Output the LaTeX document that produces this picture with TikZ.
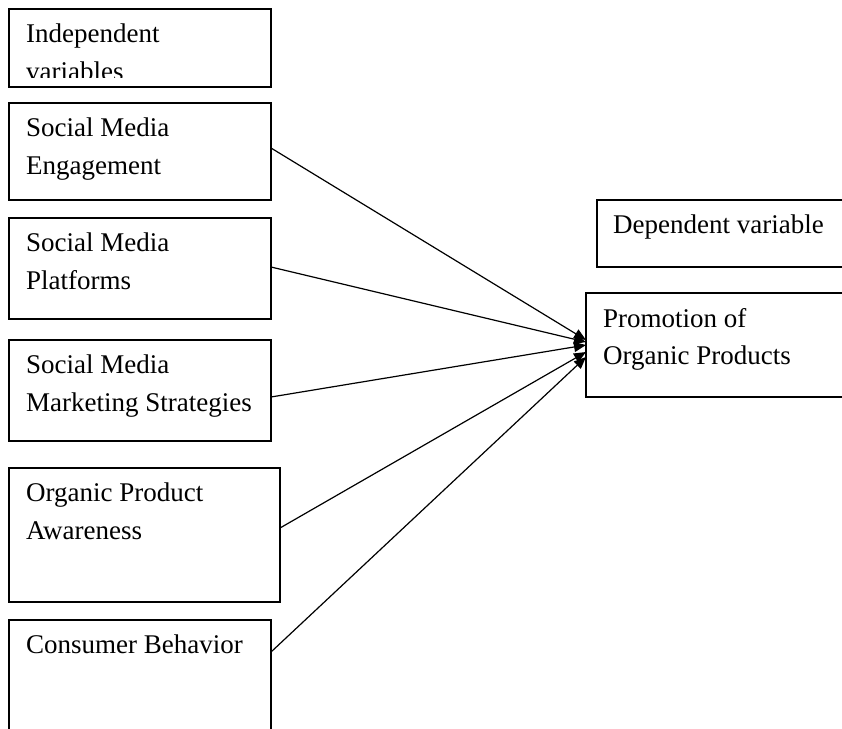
\documentclass[tikz,border=0pt]{standalone}
\usepackage{fontspec}
\setmainfont{Liberation Serif}
\usepackage{tikz}
\usetikzlibrary{positioning,calc,arrows.meta}

\begin{document}
\begin{tikzpicture}[x=1pt, y=-1pt,
    box/.style = {draw, line width=1.3pt, anchor=north west, inner sep=0pt, outer sep=0pt},
    lbl/.style = {anchor=north west, inner sep=0pt, align=left,
                  font=\fontsize{27}{37.5}\selectfont},
    arr/.style = {line width=1.2pt, -{Triangle[length=12pt, width=10pt]}}]
    \clip (0,0) rectangle (842,728);

    % independent side
    \node[box, minimum width=262, minimum height=78] (indep) at (9,9) {};
    \begin{scope}
        \clip (9,9) rectangle (271,77);
        \node[lbl] (indep-t) at ($(indep.north west)+(17,15)$) {Independent\\variables};
    \end{scope}

    \node[box, minimum width=262, minimum height=97] (eng) at (9,103) {};
    \node[lbl] (eng-t) at ($(eng.north west)+(17,15)$) {Social Media\\Engagement};

    \node[box, minimum width=262, minimum height=101] (plat) at (9,218) {};
    \node[lbl] (plat-t) at ($(plat.north west)+(17,15)$) {Social Media\\Platforms};

    \node[box, minimum width=262, minimum height=101] (strat) at (9,340) {};
    \node[lbl] (strat-t) at ($(strat.north west)+(17,15)$) {Social Media\\Marketing Strategies};

    \node[box, minimum width=271, minimum height=134] (aware) at (9,468) {};
    \node[lbl] (aware-t) at ($(aware.north west)+(17,15)$) {Organic Product\\Awareness};

    \node[box, minimum width=262, minimum height=130] (cons) at (9,620) {};
    \node[lbl] (cons-t) at ($(cons.north west)+(17,15)$) {Consumer Behavior};

    % dependent side
    \node[box, minimum width=260, minimum height=67] (dep) at (597,200) {};
    \node[lbl] (dep-t) at ($(dep.north west)+(16,15)$) {Dependent variable};

    \node[box, minimum width=270, minimum height=104] (promo) at (586,293) {};
    \node[lbl] (promo-t) at ($(promo.north west)+(17,15)$) {Promotion of\\Organic Products};

    \draw[arr] ($(eng.east)+(0,-3.5)$) -- ($(promo.west)+(0,-5)$);
    \draw[arr] ($(plat.east)+(0,-1.5)$) -- ($(promo.west)+(0,-3)$);
    \draw[arr] ($(strat.east)+(0,6.5)$) -- (promo.west);
    \draw[arr] ($(aware.east)+(0,-7)$) -- ($(promo.west)+(0,7)$);
    \draw[arr] ($(cons.north east)+(0,32)$) -- ($(promo.west)+(0,12)$);
\end{tikzpicture}
\end{document}
